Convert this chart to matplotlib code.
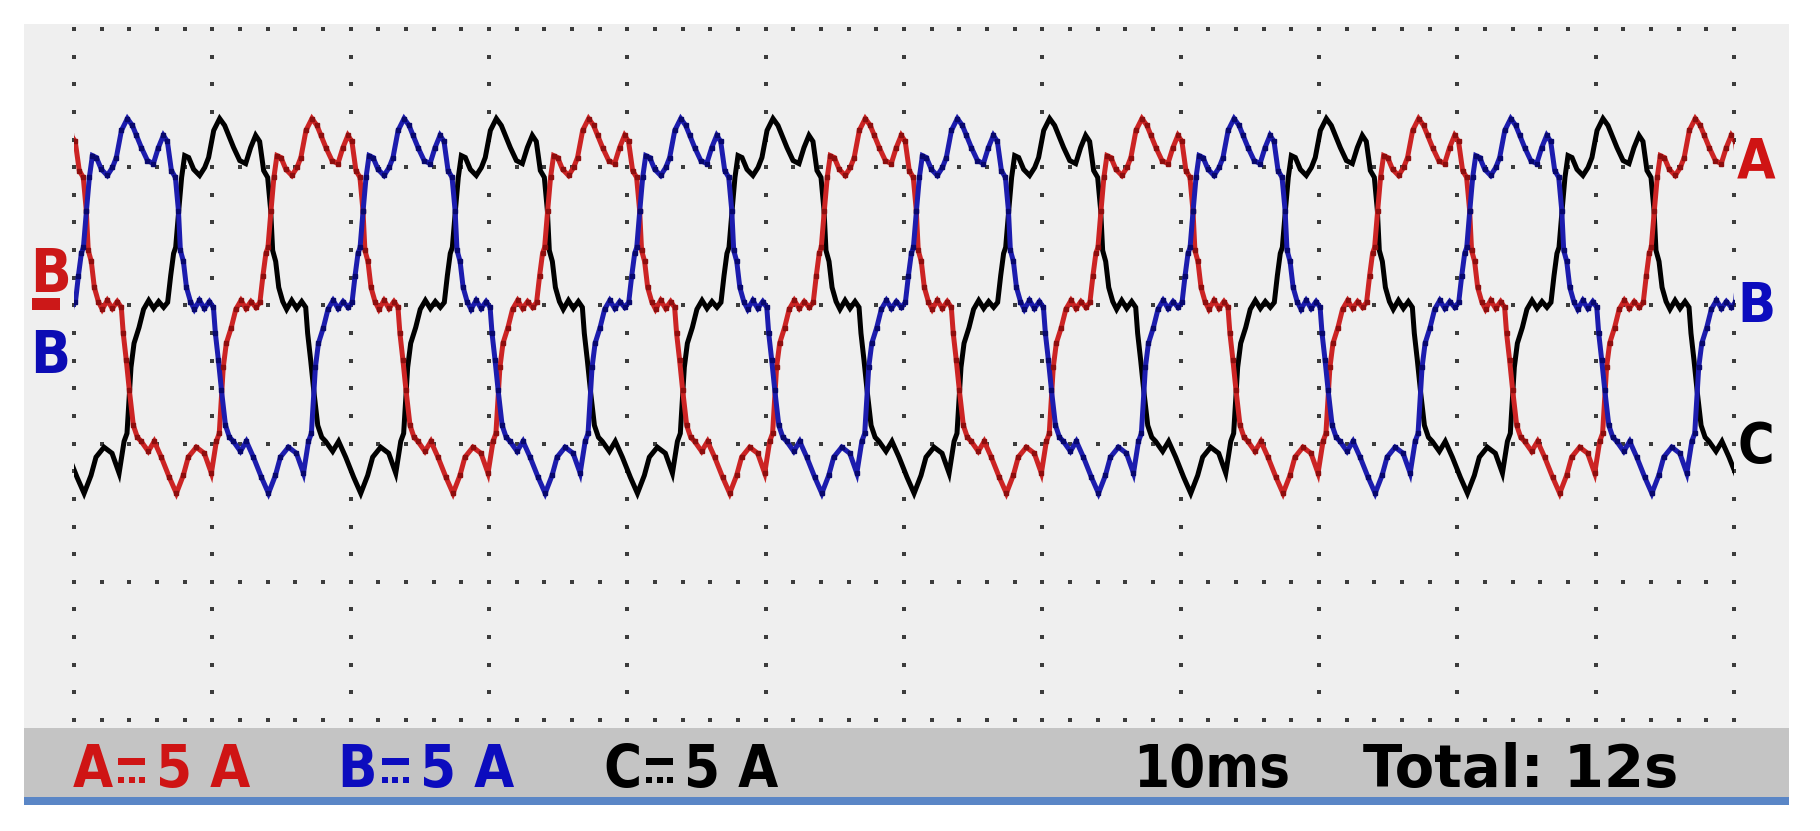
import numpy as np
import matplotlib
matplotlib.use('Agg')
import matplotlib.pyplot as plt
from matplotlib.patches import Rectangle

# one 50 Hz period: time from positive peak (ms), current (A)
period_ms = [-6.41, -6.19, -5.83, -5.50, -5.13, -4.77, -4.41, -4.05, -3.76,
             -3.54, -3.33, -3.18, -2.96, -2.75, -2.53, -2.24, -1.88, -1.45,
             -1.08, -0.80, -0.43, 0.00, 0.36, 0.65, 1.01, 1.45, 1.88, 2.24,
             2.60, 2.89, 3.18, 3.47, 3.69, 3.83, 4.05, 4.27, 4.56, 4.84,
             5.21, 5.57, 5.93, 6.22, 6.36, 6.58, 6.80, 7.09, 7.38, 7.66,
             8.17, 8.60, 9.11, 9.69, 10.20, 10.70, 11.06, 11.64, 12.22,
             12.73, 13.09, 13.30]
period_amp = [-2.24, -1.37, -0.80, -0.14, 0.18, -0.11, 0.14, -0.07, 0.11,
              1.08, 1.88, 2.10, 3.43, 4.63, 5.42, 5.35, 4.92, 4.70,
              4.99, 5.35, 6.33, 6.76, 6.51, 6.15, 5.71, 5.24, 5.13, 5.71,
              6.15, 5.93, 4.88, 4.63, 3.43, 1.99, 1.59, 0.65, 0.14, -0.14,
              0.18, -0.11, 0.14, -0.07, -1.01, -1.99, -3.07, -4.34, -4.77, -4.92,
              -5.28, -4.92, -5.49, -6.22, -6.80, -6.15, -5.49, -5.13, -5.35,
              -6.07, -4.92, -4.63]

trace_names = ['A', 'B', 'C']
peak_ms = [17.2, 3.86, 10.53]      # first positive peak of each phase
period = 20.0
screen_ms = 120.0
scale_value = '5 A'                # per division, DC coupled
timebase = '10ms'
total_time = 'Total: 12s'

line_colors = {'A': '#cc2424', 'B': '#1c1cae', 'C': '#000000'}
dot_colors = {'A': '#8e0e0e', 'B': '#08086e', 'C': '#000000'}
text_colors = {'A': '#cf1414', 'B': '#0c0cbe', 'C': '#000000'}

W, H = 1820, 831
fig = plt.figure(figsize=(W / 100, H / 100), dpi=100)
fig.patch.set_facecolor('white')
renderer = fig.canvas.get_renderer()

def fx(px):
    return px / W

def fy(py):
    return 1 - py / H

def box(x0, y0, x1, y1, color, z=0):
    fig.add_artist(Rectangle((fx(x0), fy(y1)), fx(x1) - fx(x0), fy(y0) - fy(y1),
                             transform=fig.transFigure, color=color, lw=0, zorder=z))

def label(x, y, s, color, size, stretch='condensed'):
    t = fig.text(fx(x), fy(y), s, color=color, fontsize=size, fontweight='bold',
                 family='DejaVu Sans', fontstretch=stretch,
                 va='baseline', ha='left')
    return t.get_window_extent(renderer).x1   # right edge in px

def dc_sign(x, color):
    # the DC coupling sign: a bar over three dots
    box(x, 758, x + 27, 765, color, 2)
    for dx in (0, 10.5, 21):
        box(x + dx, 777, x + dx + 6, 783, color, 2)

# scope screen, status bar and its blue edge
box(24, 24, 1789, 728, '#efefef')
box(24, 728, 1789, 797, '#c4c4c4')
box(24, 797, 1789, 805, '#5a86c6')

ax = fig.add_axes([fx(74), fy(720), fx(1734) - fx(74), fy(29) - fy(720)])
ax.set_xlim(0, screen_ms)
ax.set_ylim(-15, 10)
ax.axis('off')

# dotted graticule: 12 x 5 divisions, 5 dots per division
gx, gy = [], []
for x in np.arange(0, screen_ms + 1, 10):
    for y in np.arange(-15, 10.5, 1):
        gx.append(x); gy.append(y)
for y in np.arange(-15, 10.5, 5):
    for x in np.arange(0, screen_ms + 1, 2):
        gx.append(x); gy.append(y)
ax.scatter(gx, gy, s=7, marker='s', color='#3c3c3c', lw=0, clip_on=False, zorder=1)

for name in ['C', 'A', 'B']:
    peak = peak_ms[trace_names.index(name)]
    ts, vs = [], []
    for k in range(-1, 8):
        ts.extend(np.array(period_ms) + peak + k * period)
        vs.extend(period_amp)
    ts = np.array(ts)
    vs = np.array(vs)
    keep = (ts > -1) & (ts < screen_ms + 1)
    ax.plot(ts[keep], vs[keep], color=line_colors[name], lw=3.6,
            solid_joinstyle='miter', zorder=3)
    if name != 'C':
        ax.plot(ts[keep], vs[keep], ls='none', marker='s', ms=3.4,
                color=dot_colors[name], zorder=4)

# status bar: channel scales
for name, x_letter in zip(trace_names, [73, 337, 603]):
    right = label(x_letter, 787, name, text_colors[name], 41.5)
    dc_sign(right + 5, text_colors[name])
    label(right + 5 + 27 + 11, 787, scale_value, text_colors[name], 41.5)
label(1133, 787, timebase, 'black', 41.5)
label(1363, 787, total_time, 'black', 41.5, stretch='normal')

# trace labels on the right
for name, base in zip(trace_names, [178, 322, 462]):
    label(1737, base, name, text_colors[name], 40)

# zero markers on the left
label(30, 292, 'B', '#cc1818', 43)
box(32, 298, 60, 310, '#cc1818')
label(30, 373, 'B', '#0c0cb4', 42)

fig.savefig('out.png', dpi=100)
